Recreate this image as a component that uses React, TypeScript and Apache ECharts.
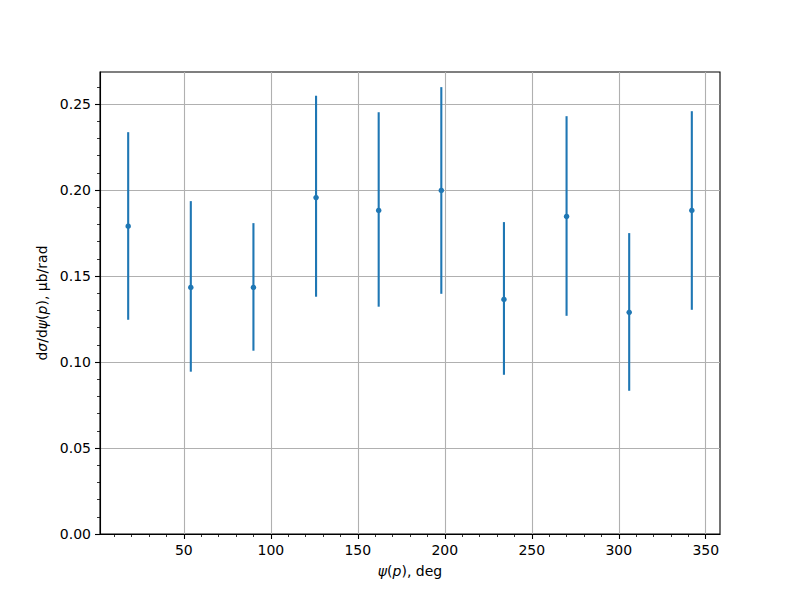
import React, { useEffect, useRef } from "react";
import * as echarts from "echarts";

const psi = [18, 54, 90, 126, 162, 198, 234, 270, 306, 342];
const values = [0.179, 0.1434, 0.1434, 0.1957, 0.1882, 0.1998, 0.1364, 0.1847, 0.1289, 0.1882];
const lowerBounds = [0.1246, 0.0944, 0.1066, 0.138, 0.1322, 0.1397, 0.0926, 0.1269, 0.0833, 0.1304];
const upperBounds = [0.2337, 0.1936, 0.1808, 0.2549, 0.2453, 0.2599, 0.1814, 0.243, 0.175, 0.2459];

const xMajorTicks = [50, 100, 150, 200, 250, 300, 350];
const xMinorTicks = [10, 20, 30, 40, 60, 70, 80, 90, 110, 120, 130, 140, 160, 170, 180, 190, 210, 220, 230, 240, 260, 270, 280, 290, 310, 320, 330, 340];
const yMajorTicks = [0, 0.05, 0.1, 0.15, 0.2, 0.25];
const yMinorTicks = [0.01, 0.02, 0.03, 0.04, 0.06, 0.07, 0.08, 0.09, 0.11, 0.12, 0.13, 0.14, 0.16, 0.17, 0.18, 0.19, 0.21, 0.22, 0.23, 0.24, 0.26];

const xRange = [1.8, 358.2];
const yRange = [0, 0.2687];

const FONT = "DejaVu Sans";
const BLUE = "#1f77b4";

export default function App() {
  const ref = useRef<HTMLDivElement>(null);
  useEffect(() => {
    document.body.style.margin = "0";
    const chart = echarts.init(ref.current!, null, { renderer: "svg" });
    const errData = psi.map((x, i) => [x, lowerBounds[i], upperBounds[i]]);
    const ptData = psi.map((x, i) => [x, values[i]]);
    const rich = {
      i: { fontStyle: "italic", fontFamily: FONT, fontSize: 14, color: "#000" },
    };
    chart.setOption({
      animation: false,
      backgroundColor: "#fff",
      textStyle: { fontFamily: FONT },
      grid: {
        left: 100,
        right: 80,
        top: 72,
        bottom: 66,
        show: true,
        borderColor: "#000",
        borderWidth: 1.1,
        backgroundColor: "transparent",
      },
      xAxis: [
        {
          type: "value",
          min: xRange[0],
          max: xRange[1],
          position: "bottom",
          axisLine: { show: true, onZero: false, lineStyle: { color: "#000", width: 1.1 } },
          axisTick: { show: true, customValues: xMajorTicks, length: 5, lineStyle: { color: "#000", width: 1.1 } },
          axisLabel: { customValues: xMajorTicks, color: "#000", fontSize: 14, fontFamily: FONT, margin: 9 },
          splitLine: { show: true, lineStyle: { color: "#b0b0b0", width: 1.1 } },
          name: "{i|ψ}({i|p}), deg",
          nameLocation: "middle",
          nameGap: 30,
          nameTextStyle: { fontSize: 14, fontFamily: FONT, color: "#000", rich },
        },
        {
          type: "value",
          min: xRange[0],
          max: xRange[1],
          position: "bottom",
          axisLine: { show: false, onZero: false },
          axisTick: { show: true, customValues: xMinorTicks, length: 3, lineStyle: { color: "#000", width: 0.8 } },
          axisLabel: { show: false },
          splitLine: { show: false },
        },
      ],
      yAxis: [
        {
          type: "value",
          min: yRange[0],
          max: yRange[1],
          axisLine: { show: true, onZero: false, lineStyle: { color: "#000", width: 1.1 } },
          axisTick: { show: true, customValues: yMajorTicks, length: 5, lineStyle: { color: "#000", width: 1.1 } },
          axisLabel: {
            customValues: yMajorTicks,
            color: "#000",
            fontSize: 14,
            fontFamily: FONT,
            margin: 9,
            formatter: (v: number) => v.toFixed(2),
          },
          splitLine: { show: true, lineStyle: { color: "#b0b0b0", width: 1.1 } },
          name: "d{i|σ}/d{i|ψ}({i|p}), μb/rad",
          nameLocation: "middle",
          nameGap: 50,
          nameRotate: 90,
          nameTextStyle: { fontSize: 14, fontFamily: FONT, color: "#000", rich },
        },
        {
          type: "value",
          min: yRange[0],
          max: yRange[1],
          position: "left",
          axisLine: { show: false, onZero: false },
          axisTick: { show: true, customValues: yMinorTicks, length: 3, lineStyle: { color: "#000", width: 0.8 } },
          axisLabel: { show: false },
          splitLine: { show: false },
        },
      ],
      series: [
        {
          type: "custom",
          xAxisIndex: 0,
          yAxisIndex: 0,
          data: errData,
          renderItem: (params: any, api: any) => {
            const x = api.value(0);
            const p1 = api.coord([x, api.value(1)]);
            const p2 = api.coord([x, api.value(2)]);
            return {
              type: "line",
              shape: { x1: p1[0], y1: p1[1], x2: p2[0], y2: p2[1] },
              style: { stroke: BLUE, lineWidth: 2.1 },
            };
          },
          z: 3,
        },
        {
          type: "scatter",
          xAxisIndex: 0,
          yAxisIndex: 0,
          data: ptData,
          symbol: "circle",
          symbolSize: 5.5,
          itemStyle: { color: BLUE, opacity: 1 },
          z: 4,
        },
      ],
    });
    return () => chart.dispose();
  }, []);
  return <div ref={ref} style={{ width: 800, height: 600 }} />;
}
